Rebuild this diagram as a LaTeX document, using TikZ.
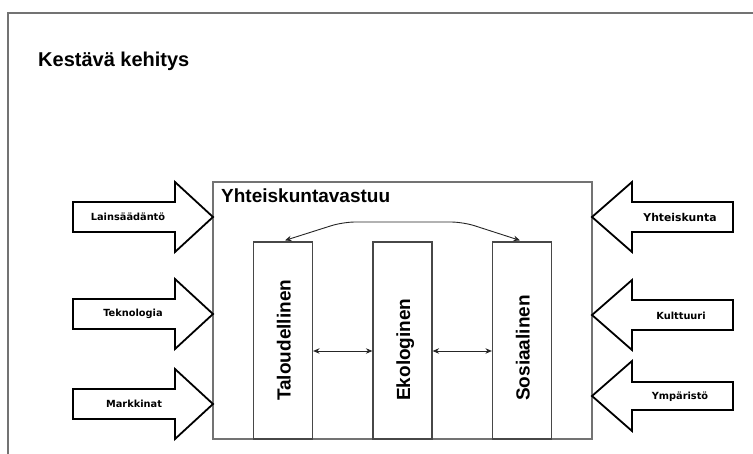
\documentclass[tikz,border=0pt]{standalone}
\usepackage{fontspec}
\setmainfont{Liberation Sans}
\newfontfamily\labelfont{DejaVu Sans}
\usetikzlibrary{arrows.meta}

\begin{document}
\begin{tikzpicture}[x=1pt,y=-1pt,
  bigtext/.style={font=\bfseries\fontsize{19}{22}\selectfont, inner sep=0pt},
  smalltext/.style={font=\labelfont\bfseries\fontsize{9.8}{11}\selectfont, inner sep=0pt},
  pillar/.style={draw=black!72, line width=1.2pt, minimum width=59pt, minimum height=197pt, inner sep=0pt},
  fat/.style={draw=black, line width=1.8pt, line join=miter, fill=white},
  link/.style={draw=black!85, line width=0.9pt, {Stealth[length=6.5pt,width=5.5pt]}-{Stealth[length=6.5pt,width=5.5pt]}},
]
% page
\fill[white] (0,0) rectangle (753,453);
\useasboundingbox (0,0) rectangle (753,453);

% outer frame (runs off the page to the right and bottom)
\draw[black!55, line width=2pt] (8,470) -- (8,13) -- (770,13);
\node[bigtext, font=\bfseries\fontsize{20}{24}\selectfont, anchor=base west] (title) at (38,66) {Kestävä kehitys};

% main box
\node[draw=black!55, line width=1.4pt, minimum width=379pt, minimum height=257pt, inner sep=0pt] (main) at (402.5,310.5) {};
\node[bigtext, anchor=base west] (maintitle) at (221,202) {Yhteiskuntavastuu};

% three pillars
\node[pillar] (tal) at (283,340.5) {};
\node[pillar] (eko) at (402.5,340.5) {};
\node[pillar] (sos) at (522,340.5) {};
\node[bigtext, rotate=90, anchor=base west] (talt) at (290.5,401) {Taloudellinen};
\node[bigtext, rotate=90, anchor=base west] (ekot) at (410,401) {Ekologinen};
\node[bigtext, rotate=90, anchor=base west] (sost) at (529.5,401) {Sosiaalinen};

% links between pillars
\draw[link] ([yshift=-10.5pt]tal.east) -- ([yshift=-10.5pt]eko.west);
\draw[link] ([yshift=-10.5pt]eko.east) -- ([yshift=-10.5pt]sos.west);
\coordinate (bendL) at (343,222);
\coordinate (bendR) at (463,222);
\draw[link, rounded corners=12pt] ([xshift=2pt,yshift=1pt]tal.north) -- (bendL) -- (bendR) -- ([xshift=-2pt,yshift=1pt]sos.north);

% incoming factors from the left
\foreach \c/\lx/\t/\n in {217/128/Lainsäädäntö/la, 314/133/Teknologia/te, 404/134/Markkinat/ma}{
  \draw[fat] (213,\c) -- (175,\c-35) -- (175,\c-15) -- (73,\c-15) -- (73,\c+15)
             -- (175,\c+15) -- (175,\c+35) -- cycle;
  \node[smalltext] (\n) at (\lx,\c) {\t};
}

% incoming factors from the right
\foreach \c/\hs in {217/15, 315/15, 396/14}{
  \draw[fat] (592,\c) -- (632,\c-35) -- (632,\c-\hs) -- (733,\c-\hs) -- (733,\c+\hs)
             -- (632,\c+\hs) -- (632,\c+35) -- cycle;
}
\node[smalltext, font=\labelfont\bfseries\fontsize{10.8}{12}\selectfont] (yh) at (680,217) {Yhteiskunta};
\node[smalltext] (ku) at (681,316) {Kulttuuri};
\node[smalltext] (ym) at (680,397) {Ympäristö};
\end{tikzpicture}
\end{document}
